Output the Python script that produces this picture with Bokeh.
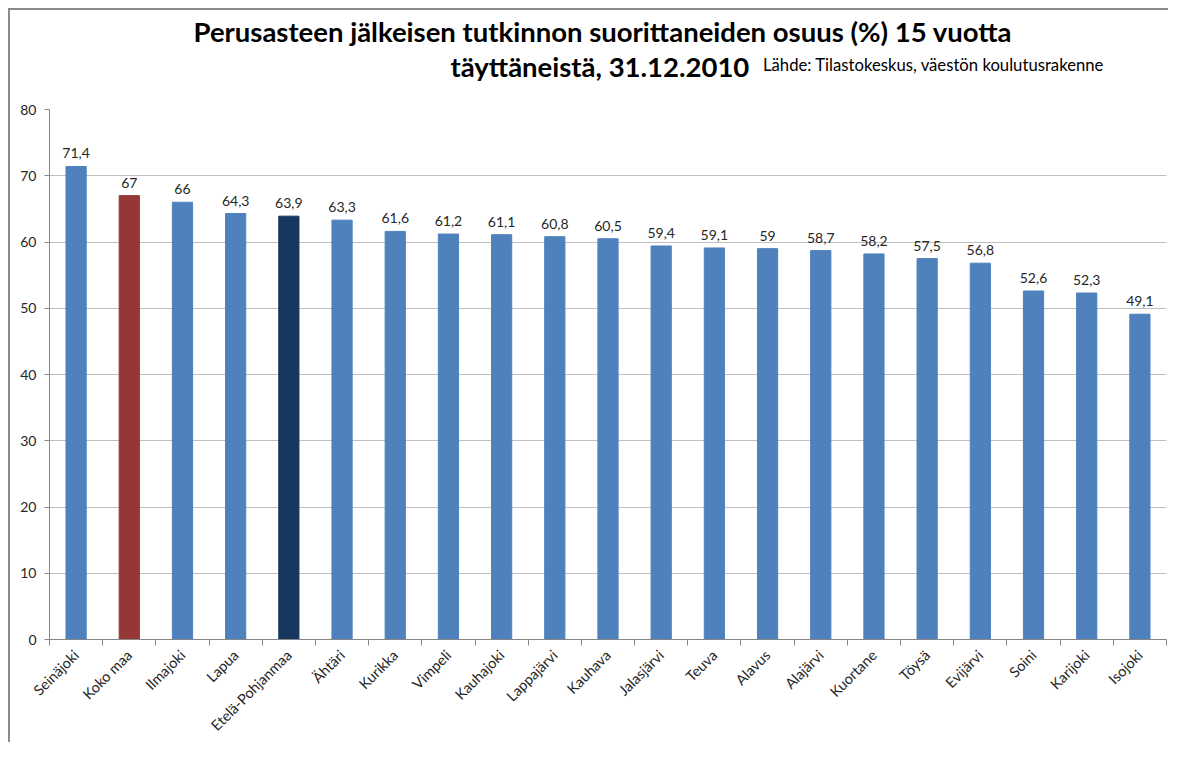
from math import pi
from bokeh.plotting import figure
from bokeh.models import ColumnDataSource, FixedTicker, LabelSet, Range1d, Title, Div
from bokeh.embed import file_html
from bokeh.resources import INLINE
from bokeh.core.properties import value

categories = ["Seinäjoki", "Koko maa", "Ilmajoki", "Lapua", "Etelä-Pohjanmaa", "Ähtäri",
              "Kurikka", "Vimpeli", "Kauhajoki", "Lappajärvi", "Kauhava", "Jalasjärvi",
              "Teuva", "Alavus", "Alajärvi", "Kuortane", "Töysä", "Evijärvi", "Soini",
              "Karijoki", "Isojoki"]
values = [71.4, 67, 66, 64.3, 63.9, 63.3, 61.6, 61.2, 61.1, 60.8, 60.5, 59.4,
          59.1, 59, 58.7, 58.2, 57.5, 56.8, 52.6, 52.3, 49.1]
y_ticks = [0, 10, 20, 30, 40, 50, 60, 70, 80]
title_1 = "Perusasteen jälkeisen tutkinnon suorittaneiden osuus (%) 15 vuotta"
title_2 = "täyttäneistä, 31.12.2010"
source_note = "Lähde: Tilastokeskus, väestön koulutusrakenne"

BLUE, RED, NAVY = "#4F81BD", "#953735", "#17375E"
colors = [BLUE] * len(categories)
colors[categories.index("Koko maa")] = RED
colors[categories.index("Etelä-Pohjanmaa")] = NAVY

xs = list(range(1, len(categories) + 1))
labels = [f"{v:g}".replace(".", ",") for v in values]
src = ColumnDataSource(dict(x=xs, v=values, color=colors, lbl=labels))

FONT = "Lato"
p = figure(width=1168, height=742, x_range=Range1d(0.5, len(categories) + 0.5),
           y_range=Range1d(0, 80), output_backend="svg", toolbar_location=None,
           min_border_left=49, min_border_right=2, min_border_top=109, min_border_bottom=89)
p.outline_line_color = None

p.vbar(x="x", top="v", width=0.38, fill_color="color", line_color="color", source=src)
p.add_layout(LabelSet(x="x", y="v", text="lbl", source=src, text_align="center",
                      text_baseline="bottom", y_offset=8, text_font_size="14px",
                      text_font=value(FONT), text_color="#262626"))

# axes
p.yaxis.ticker = FixedTicker(ticks=y_ticks)
p.yaxis.major_tick_out = 5
p.yaxis.major_tick_in = 0
p.yaxis.minor_tick_line_color = None
p.yaxis.axis_line_color = "#868686"
p.yaxis.major_tick_line_color = "#868686"
p.yaxis.major_label_text_font = FONT
p.yaxis.major_label_text_font_size = "14px"
p.yaxis.major_label_text_color = "#262626"
p.yaxis.major_label_standoff = 8

p.xaxis.ticker = FixedTicker(ticks=xs, minor_ticks=[i + 0.5 for i in range(0, len(categories) + 1)])
p.xaxis.major_label_overrides = {x: c for x, c in zip(xs, categories)}
p.xaxis.major_tick_out = 0
p.xaxis.major_tick_in = 0
p.xaxis.major_tick_line_color = None
p.xaxis.minor_tick_out = 6
p.xaxis.minor_tick_in = 0
p.xaxis.minor_tick_line_color = "#868686"
p.xaxis.axis_line_color = "#868686"
p.xaxis.major_label_orientation = pi / 4
p.xaxis.major_label_standoff = 7
p.xaxis.major_label_text_font = FONT
p.xaxis.major_label_text_font_size = "14.5px"
p.xaxis.major_label_text_line_height = 0.8
p.xaxis.major_label_text_color = "#262626"

p.xgrid.grid_line_color = None
p.ygrid.ticker = FixedTicker(ticks=y_ticks)
p.ygrid.grid_line_color = "#BFBFBF"

# titles: spacer nearest the plot, then line 2, then line 1
p.add_layout(Title(text=" ", text_font_size="2px", standoff=23), "above")
p.add_layout(Title(text=title_2, align="left", offset=401, standoff=0,
                   text_font=FONT, text_font_size="27.5px", text_font_style="bold",
                   text_color="#000000"), "above")
p.add_layout(Title(text=title_1, align="left", offset=144, standoff=0,
                   text_font=FONT, text_font_size="27.5px", text_font_style="bold",
                   text_color="#000000"), "above")

# chart frame (top/left border) and source note as a DOM overlay
note = Div(text=(f'<span style="position:absolute;left:753px;top:44px;white-space:nowrap;'
                 f'font-family:Lato;font-size:16.7px;color:#000;">{source_note}</span>'),
           styles={"position": "absolute", "left": "8px", "top": "8px",
                   "width": "1160px", "height": "734px",
                   "border-top": "2px solid #8a8a8a", "border-left": "2px solid #8a8a8a",
                   "pointer-events": "none"})
p.elements = [note]

open("out.html", "w").write(file_html(p, INLINE))
